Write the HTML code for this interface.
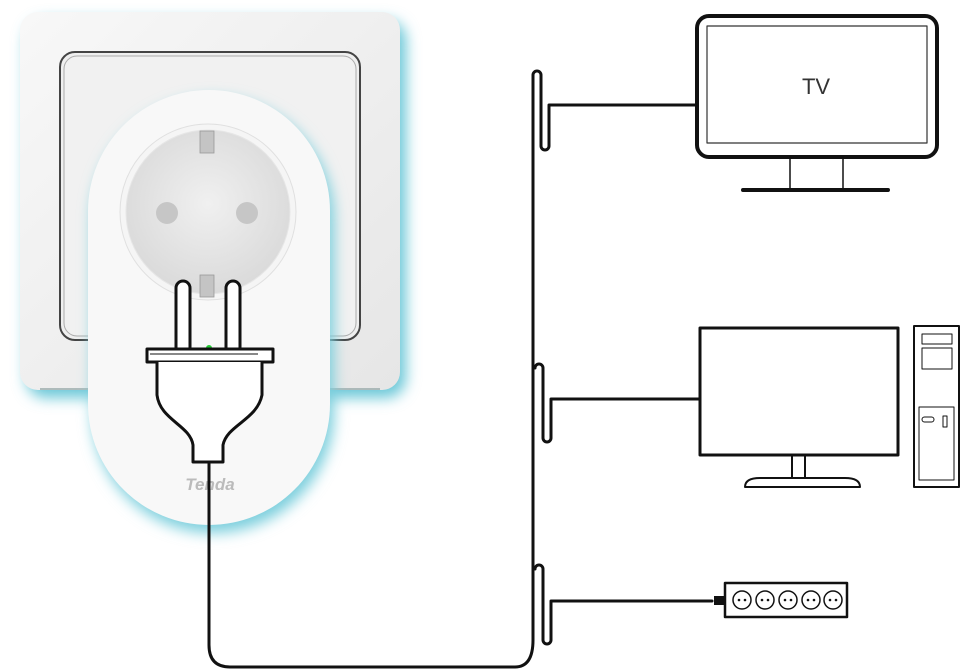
<!DOCTYPE html>
<html><head><meta charset="utf-8"><style>html,body{margin:0;padding:0;background:#fff;}svg{display:block}</style></head><body>
<svg width="960" height="671" viewBox="0 0 960 671" xmlns="http://www.w3.org/2000/svg">
<defs>
<filter id="glow" x="-20%" y="-20%" width="140%" height="140%"><feGaussianBlur stdDeviation="7"/></filter>
<linearGradient id="plate" x1="0" y1="0" x2="1" y2="1"><stop offset="0" stop-color="#f8f8f8"/><stop offset="1" stop-color="#e6e6e6"/></linearGradient>
<radialGradient id="sock" cx="0.5" cy="0.45" r="0.6"><stop offset="0" stop-color="#f0f0f0"/><stop offset="1" stop-color="#d8d8d8"/></radialGradient>
</defs>
<!-- wall plate -->
<rect x="26" y="20" width="380" height="378" rx="20" fill="#6cc8d8" filter="url(#glow)"/>
<rect x="20" y="12" width="380" height="378" rx="18" fill="url(#plate)"/>
<rect x="60" y="52" width="300" height="288" rx="15" fill="#efefef" stroke="#444" stroke-width="2"/>
<rect x="64" y="56" width="292" height="280" rx="13" fill="#f1f1f1" stroke="#aaa" stroke-width="1"/>
<line x1="40" y1="389" x2="380" y2="389" stroke="#9aa" stroke-width="1.5"/>
<!-- adapter -->
<rect x="92" y="98" width="242" height="435" rx="121" fill="#7ccfdd" filter="url(#glow)"/>
<rect x="88" y="90" width="242" height="435" rx="121" fill="#f8f8f8"/>
<circle cx="208" cy="212" r="88" fill="#f5f5f5" stroke="#e0e0e0"/>
<circle cx="208" cy="212" r="82" fill="url(#sock)" stroke="#e6e6e6"/>
<rect x="200" y="131" width="14" height="22" fill="#c4c4c4" stroke="#999" stroke-width="0.8"/>
<rect x="200" y="275" width="14" height="22" fill="#c4c4c4" stroke="#999" stroke-width="0.8"/>
<circle cx="167" cy="213" r="11" fill="#c6c6c6"/>
<circle cx="247" cy="213" r="11" fill="#c6c6c6"/>
<circle cx="209" cy="348" r="3" fill="#22cc33"/>
<text x="210" y="490" font-family="Liberation Sans, sans-serif" font-size="17" font-weight="bold" font-style="italic" fill="#bbb" text-anchor="middle">Tenda</text>
<!-- plug -->
<g fill="#fff" stroke="#111" stroke-width="3" stroke-linejoin="round">
<path d="M176 352 V288 a7 7 0 0 1 14 0 V352"/>
<path d="M226 352 V288 a7 7 0 0 1 14 0 V352"/>
<rect x="147" y="349" width="126" height="13"/>
<path d="M157 362 V395 C160 420 190 425 193 445 V462 H223 V445 C227 425 257 420 262 395 V362"/>
</g>
<line x1="150" y1="354" x2="258" y2="354" stroke="#111" stroke-width="1"/>
<!-- cables -->
<g fill="none" stroke="#111" stroke-width="3" stroke-linecap="round" stroke-linejoin="round">
<path d="M209 462 V645 Q209 667 230 667 H515 Q533 667 533 640 V75 a4 4 0 0 1 8 0 V146 a3 3 0 0 0 8 0 V105 H697"/>
<path d="M535 368 a4 4 0 0 1 8 0 V438 a3 3 0 0 0 8 0 V399 H700"/>
<path d="M535 569 a4 4 0 0 1 8 0 V640 a3 3 0 0 0 8 0 V601 H712"/>
<!-- TV -->
<rect x="697" y="16" width="240" height="141" rx="12" stroke-width="4"/>
<rect x="707" y="26" width="220" height="117" stroke-width="1.2" stroke="#333"/>
<line x1="790" y1="157" x2="790" y2="190" stroke-width="1.5"/>
<line x1="843" y1="157" x2="843" y2="190" stroke-width="1.5"/>
<line x1="743" y1="190" x2="888" y2="190" stroke-width="4"/>
<!-- monitor -->
<rect x="700" y="328" width="198" height="127" stroke-width="3" stroke-linecap="butt"/>
<rect x="792" y="455" width="13" height="23" stroke-width="2"/>
<path d="M745 487 Q745 478 760 478 H845 Q860 478 860 487 Z" stroke-width="2"/>
<!-- tower -->
<rect x="914" y="326" width="45" height="161" stroke-width="2"/>
<rect x="922" y="334" width="30" height="10" stroke-width="1"/>
<rect x="922" y="348" width="30" height="21" stroke-width="1"/>
<rect x="919" y="407" width="35" height="73" stroke-width="1"/>
<rect x="922" y="417" width="12" height="5" rx="2.5" stroke-width="1"/>
<rect x="943" y="416" width="4" height="11" stroke-width="1"/>
<!-- power strip -->
<rect x="725" y="583" width="122" height="34" stroke-width="2.5"/>
</g>
<rect x="714" y="596" width="11" height="9" fill="#111"/>
<g fill="none" stroke="#111" stroke-width="1.5">
<circle cx="742" cy="600" r="9"/><circle cx="765" cy="600" r="9"/><circle cx="788" cy="600" r="9"/><circle cx="811" cy="600" r="9"/><circle cx="833" cy="600" r="9"/>
</g>
<g fill="#111">
<circle cx="739" cy="600" r="1.3"/><circle cx="745" cy="600" r="1.3"/>
<circle cx="762" cy="600" r="1.3"/><circle cx="768" cy="600" r="1.3"/>
<circle cx="785" cy="600" r="1.3"/><circle cx="791" cy="600" r="1.3"/>
<circle cx="808" cy="600" r="1.3"/><circle cx="814" cy="600" r="1.3"/>
<circle cx="830" cy="600" r="1.3"/><circle cx="836" cy="600" r="1.3"/>
</g>
<text x="816" y="94" font-family="Liberation Sans, sans-serif" font-size="22" fill="#333" text-anchor="middle">TV</text>
</svg>
</body></html>
